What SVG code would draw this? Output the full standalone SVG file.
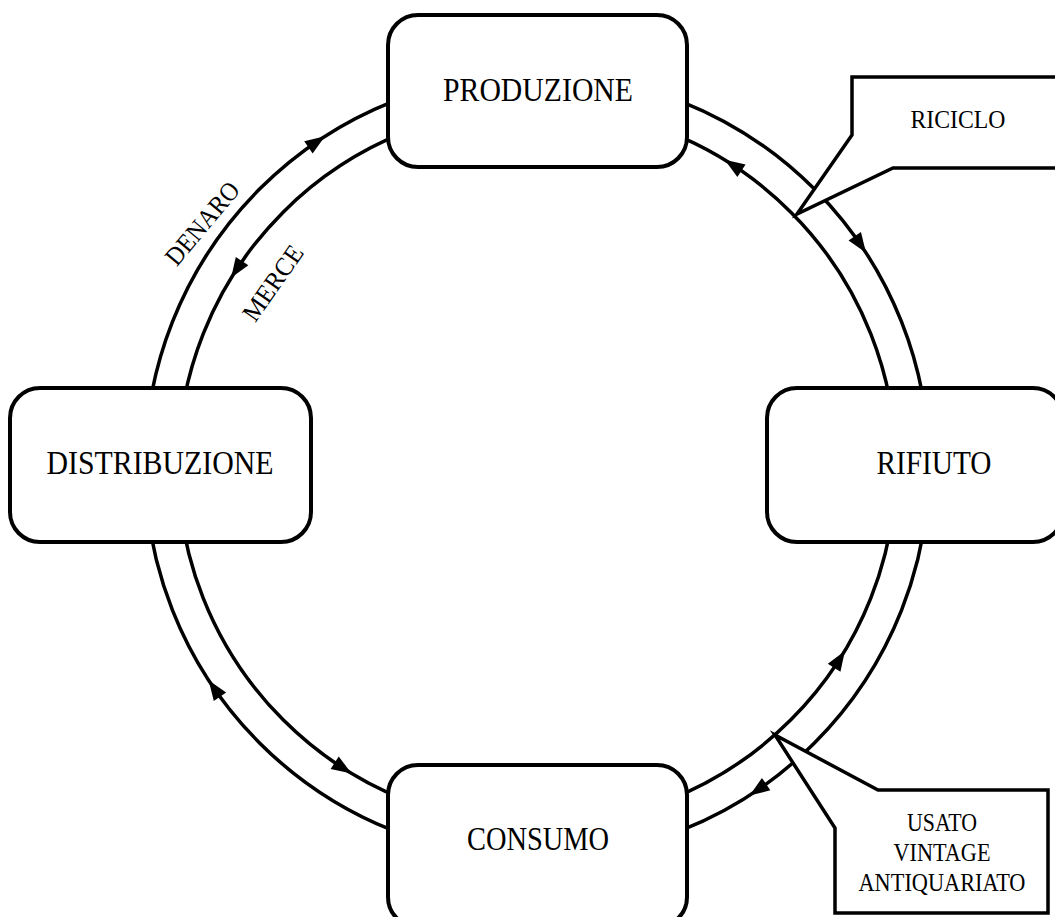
<svg xmlns="http://www.w3.org/2000/svg" xmlns:xlink="http://www.w3.org/1999/xlink" width="1055" height="917" viewBox="0 0 1055 917">
<style>
.ring{fill:none;stroke:#000;stroke-width:3.5}
.box{fill:#fff;stroke:#000;stroke-width:4}
.call{fill:#fff;stroke:#000;stroke-width:3.5;stroke-linejoin:miter}
.lbl{font-family:"Liberation Serif","Times New Roman",serif;font-size:33px;fill:#000;text-anchor:middle}
.sm{font-family:"Liberation Serif","Times New Roman",serif;font-size:26px;fill:#000;text-anchor:middle}
</style>
<defs>
<path id="ah" d="M10,0 L-10,-7.5 L-10,7.5 Z" fill="#000"/>
</defs>
<rect width="1055" height="917" fill="#fff"/>
<g id="connectors">
<circle class="ring" cx="537" cy="466" r="392"/>
<circle class="ring" cx="537" cy="466" r="359"/>
<use xlink:href="#ah" transform="translate(316.7,141.8) rotate(325.8)"/>
<use xlink:href="#ah" transform="translate(236.6,269.4) rotate(123.2)"/>
<use xlink:href="#ah" transform="translate(733.1,165.3) rotate(213.1)"/>
<use xlink:href="#ah" transform="translate(860.4,244.5) rotate(55.6)"/>
<use xlink:href="#ah" transform="translate(839.5,659.4) rotate(-57.4)"/>
<use xlink:href="#ah" transform="translate(757.9,789.8) rotate(145.7)"/>
<use xlink:href="#ah" transform="translate(214.3,688.6) rotate(235.4)"/>
<use xlink:href="#ah" transform="translate(343.1,768.1) rotate(32.7)"/>
<text class="sm" x="209" y="229" transform="rotate(-50 209 229)" textLength="100" lengthAdjust="spacingAndGlyphs">DENARO</text>
<text class="sm" x="280" y="288" transform="rotate(-55 280 288)" textLength="86" lengthAdjust="spacingAndGlyphs">MERCE</text>
</g>
<g id="callout-riciclo">
<polygon class="call" points="852,77 1062,77 1062,168 893,168 797,214 852,135"/>
<text class="sm" x="958" y="128" textLength="95" lengthAdjust="spacingAndGlyphs">RICICLO</text>
</g>
<g id="callout-usato">
<polygon class="call" points="878,790 1048,790 1048,913 835,913 835,828 775,735"/>
<text class="sm" x="942" y="831" textLength="70" lengthAdjust="spacingAndGlyphs">USATO</text>
<text class="sm" x="942" y="861" textLength="97" lengthAdjust="spacingAndGlyphs">VINTAGE</text>
<text class="sm" x="942" y="891" textLength="167" lengthAdjust="spacingAndGlyphs">ANTIQUARIATO</text>
</g>
<g id="node-produzione">
<rect class="box" x="388" y="15" width="299" height="152" rx="30"/>
<text class="lbl" x="538" y="101" textLength="190" lengthAdjust="spacingAndGlyphs">PRODUZIONE</text>
</g>
<g id="node-distribuzione">
<rect class="box" x="10" y="388" width="301" height="154" rx="30"/>
<text class="lbl" x="160" y="474" textLength="227" lengthAdjust="spacingAndGlyphs">DISTRIBUZIONE</text>
</g>
<g id="node-rifiuto">
<rect class="box" x="767" y="388" width="296" height="154" rx="30"/>
<text class="lbl" x="934" y="474" textLength="115" lengthAdjust="spacingAndGlyphs">RIFIUTO</text>
</g>
<g id="node-consumo">
<rect class="box" x="388" y="765" width="299" height="162" rx="30"/>
<text class="lbl" x="538" y="850" textLength="142" lengthAdjust="spacingAndGlyphs">CONSUMO</text>
</g>
</svg>
